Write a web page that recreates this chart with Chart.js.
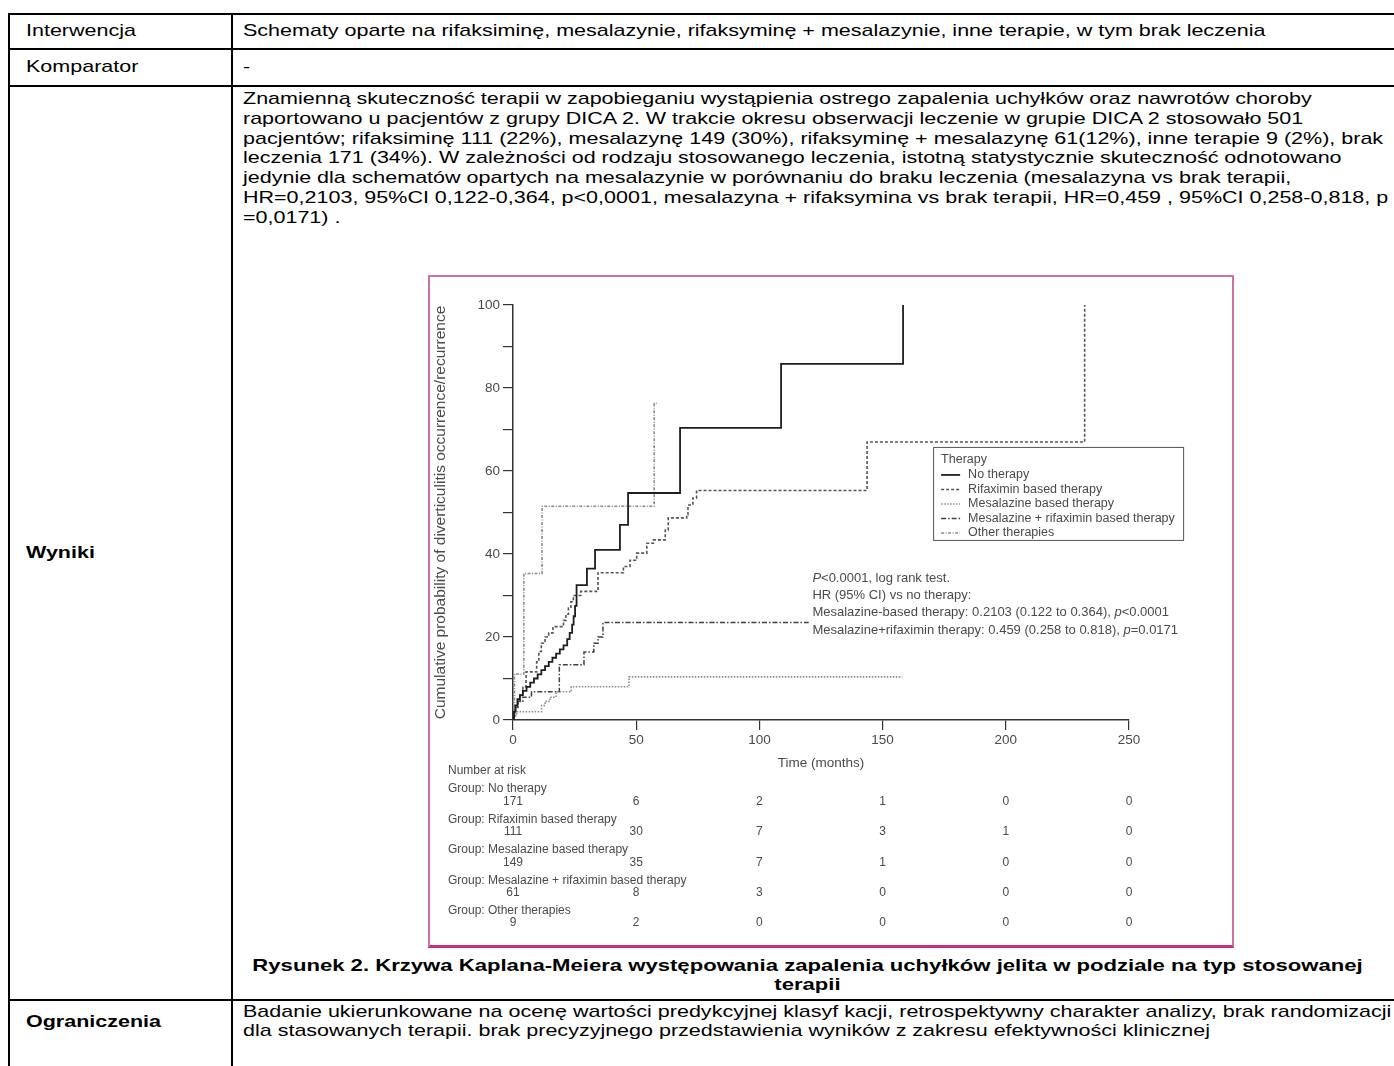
<!DOCTYPE html>
<html lang="pl">
<head>
<meta charset="UTF-8">
<title>Krzywa Kaplana-Meiera</title>
<script src="https://cdn.jsdelivr.net/npm/chart.js@4.4.1/dist/chart.umd.min.js"></script>
<style>
  body { margin: 0; width: 1394px; height: 1066px; overflow: hidden; background: #fff;
         font-family: "Liberation Sans", Arial, sans-serif; color: #000; position: relative; }
  .hl { position: absolute; left: 8px; width: 1400px; height: 2px; background: #000; }
  .vl { position: absolute; top: 13px; width: 2px; height: 1060px; background: #000; }
  /* the source page is stretched sideways, so the text is widened to match */
  .t { position: absolute; font-size: 17px; line-height: 20px; white-space: nowrap;
       transform: scaleX(1.265); transform-origin: 0 0; }
  .b { font-weight: bold; }
  #figbox { position: absolute; left: 428px; top: 275px; width: 802px; height: 668px;
            border: 2px solid #cf6fac; border-bottom: 3px solid #c8317f; background: #fff; }
  #cap { position: absolute; left: 233px; width: 1149px; top: 957px; font-size: 17px; line-height: 18.5px;
         font-weight: bold; text-align: center; white-space: nowrap;
         transform: scaleX(1.30); transform-origin: 50% 0; }
</style>
</head>
<body>
<div class="hl" style="top:13px"></div>
<div class="hl" style="top:48px"></div>
<div class="hl" style="top:85px"></div>
<div class="hl" style="top:999px"></div>
<div class="vl" style="left:8px"></div>
<div class="vl" style="left:231px"></div>

<div class="t" style="left:26px; top:21px">Interwencja</div>
<div class="t" style="left:243px; top:21px">Schematy oparte na rifaksiminę, mesalazynie, rifaksyminę + mesalazynie, inne terapie, w tym brak leczenia</div>
<div class="t" style="left:26px; top:57px">Komparator</div>
<div class="t" style="left:243px; top:57px">-</div>
<div class="t b" style="left:26px; top:543px">Wyniki</div>
<div class="t" style="left:243px; top:89px; line-height:19.8px">Znamienną skuteczność terapii w zapobieganiu wystąpienia ostrego zapalenia uchyłków oraz nawrotów choroby<br>raportowano u pacjentów z grupy DICA 2. W trakcie okresu obserwacji leczenie w grupie DICA 2 stosowało 501<br>pacjentów; rifaksiminę 111 (22%), mesalazynę 149 (30%), rifaksyminę + mesalazynę 61(12%), inne terapie 9 (2%), brak<br>leczenia 171 (34%). W zależności od rodzaju stosowanego leczenia, istotną statystycznie skuteczność odnotowano<br>jedynie dla schematów opartych na mesalazynie w porównaniu do braku leczenia (mesalazyna vs brak terapii,<br>HR=0,2103, 95%CI 0,122-0,364, p&lt;0,0001, mesalazyna + rifaksymina vs brak terapii, HR=0,459 , 95%CI 0,258-0,818, p<br>=0,0171) .</div>

<div id="figbox"><canvas id="km" width="802" height="668"></canvas></div>
<div id="cap">Rysunek 2. Krzywa Kaplana-Meiera występowania zapalenia uchyłków jelita w podziale na typ stosowanej<br>terapii</div>

<div class="t b" style="left:26px; top:1012px">Ograniczenia</div>
<div class="t" style="left:243px; top:1002px; line-height:19px">Badanie ukierunkowane na ocenę wartości predykcyjnej klasyf kacji, retrospektywny charakter analizy, brak randomizacji<br>dla stasowanych terapii. brak precyzyjnego przedstawienia wyników z zakresu efektywności klinicznej</div>

<script>
// Kaplan-Meier curves: time (months) and cumulative probability (%)
const noTherapyT = [0, 0.4, 1, 1.8, 2.8, 4, 5.5, 7, 8.5, 10, 11.5, 13, 14.5, 16, 17.5, 19, 20.5, 22, 23, 24, 24.6, 25.2, 25.8, 30, 33.3, 43.4, 46.7, 67.8, 108.8, 158.3];
const noTherapyP = [0, 2, 3.5, 5, 6, 7, 8, 9, 10, 11, 12, 13, 14, 15, 16, 17, 18, 19.5, 21, 23, 25, 27.5, 32.5, 36.5, 41, 47, 54.7, 70.4, 85.8, 100];

const rifaximinT = [0, 0.5, 1, 2, 3, 4, 5.3, 9.6, 10.5, 11.5, 13, 14.5, 16.2, 20.5, 21.5, 22.5, 23.5, 24.5, 27.5, 34.5, 44.8, 47.5, 50.2, 54.3, 57, 61.8, 63, 70.5, 71, 73, 74.5, 143.7, 232];
const rifaximinP = [0, 1.5, 3, 4.5, 6, 8, 11.6, 14, 16.5, 18.5, 20, 21, 22.5, 24, 25.5, 27, 28.5, 30, 31, 35.5, 37, 38.5, 40.2, 42.6, 43.4, 45.8, 48.7, 49.5, 51.8, 53.5, 55.3, 67, 100];

const mesalazineT = [0, 0.5, 1.5, 11.6, 13, 15, 17.5, 23.6, 47.1, 158];
const mesalazineP = [0, 1, 2, 3.5, 4.5, 5.5, 6.8, 8, 10.4, 10.4];

const mesRifT = [0, 0.5, 1, 2, 4, 7.5, 18.8, 28.8, 32.8, 34.5, 36.5, 120];
const mesRifP = [0, 1.5, 3, 4.5, 5.5, 6.8, 13.3, 16.4, 18.5, 20, 23.5, 23.5];

const otherT = [0, 0.6, 4.4, 11.8, 57.3, 58.3];
const otherP = [0, 11.1, 35.3, 51.5, 76.3, 76.3];

const groupNames = ['No therapy', 'Rifaximin based therapy', 'Mesalazine based therapy',
                    'Mesalazine + rifaximin based therapy', 'Other therapies'];

// number at risk
const riskTimes = [0, 50, 100, 150, 200, 250];
const riskNoTherapy = [171, 6, 2, 1, 0, 0];
const riskRifaximin = [111, 30, 7, 3, 1, 0];
const riskMesalazine = [149, 35, 7, 1, 0, 0];
const riskMesRif = [61, 8, 3, 0, 0, 0];
const riskOther = [9, 2, 0, 0, 0, 0];

const statLines = [
  [['P', true], ['<0.0001, log rank test.', false]],
  [['HR (95% CI) vs no therapy:', false]],
  [['Mesalazine-based therapy: 0.2103 (0.122 to 0.364), ', false], ['p', true], ['<0.0001', false]],
  [['Mesalazine+rifaximin therapy: 0.459 (0.258 to 0.818), ', false], ['p', true], ['=0.0171', false]]
];

const FONT = '"Liberation Sans", Arial, sans-serif';
const TXT = '#4a4a4a';

function pts(t, p) { return t.map((v, i) => ({x: v, y: p[i]})); }

const styles = [
  {color: '#1e1e1e', dash: [], width: 1.8},
  {color: '#555555', dash: [3, 2], width: 1.6},
  {color: '#8a8a8a', dash: [1.5, 1.5], width: 1.6},
  {color: '#404040', dash: [5, 2, 1.5, 2], width: 1.5},
  {color: '#8c8c8c', dash: [3, 1.5, 1, 1.5], width: 1.6}
];
const curves = [pts(noTherapyT, noTherapyP), pts(rifaximinT, rifaximinP), pts(mesalazineT, mesalazineP),
                pts(mesRifT, mesRifP), pts(otherT, otherP)];
const risks = [riskNoTherapy, riskRifaximin, riskMesalazine, riskMesRif, riskOther];

const datasets = curves.map((d, i) => ({
  label: groupNames[i],
  data: d,
  borderColor: styles[i].color,
  borderDash: styles[i].dash,
  borderWidth: styles[i].width,
  stepped: 'before',
  pointRadius: 0,
  fill: false,
  order: i === 0 ? 0 : 1
}));

const extras = {
  id: 'extras',
  afterDraw(chart) {
    const {ctx, scales: {x, y}} = chart;
    ctx.save();
    ctx.fillStyle = TXT;
    ctx.textBaseline = 'middle';

    // legend box
    const lx = x.getPixelForValue(170.5), ly = y.getPixelForValue(65.8);
    ctx.strokeStyle = '#555';
    ctx.lineWidth = 1;
    ctx.setLineDash([]);
    ctx.strokeRect(lx + 0.5, ly + 0.5, 250, 93);
    ctx.font = '12.5px ' + FONT;
    ctx.textAlign = 'left';
    ctx.fillText('Therapy', lx + 8, ly + 13);
    datasets.forEach((ds, i) => {
      const yy = ly + 28 + i * 14.5;
      ctx.beginPath();
      ctx.strokeStyle = ds.borderColor;
      ctx.lineWidth = ds.borderWidth;
      ctx.setLineDash(ds.borderDash);
      ctx.moveTo(lx + 8, yy);
      ctx.lineTo(lx + 27, yy);
      ctx.stroke();
      ctx.fillText(ds.label, lx + 35, yy);
    });
    ctx.setLineDash([]);

    // statistics text
    let sy = y.getPixelForValue(34.2);
    statLines.forEach(line => {
      let sx = x.getPixelForValue(121.5);
      line.forEach(([s, it]) => {
        ctx.font = (it ? 'italic ' : '') + '13px ' + FONT;
        ctx.fillText(s, sx, sy);
        sx += ctx.measureText(s).width;
      });
      sy += 17.3;
    });

    // number at risk table
    const top = chart.chartArea.bottom;
    ctx.font = '12px ' + FONT;
    ctx.textAlign = 'left';
    ctx.fillText('Number at risk', 18, top + 51);
    risks.forEach((row, i) => {
      const gy = top + 69 + i * 30.4;
      ctx.textAlign = 'left';
      ctx.fillText('Group: ' + groupNames[i], 18, gy);
      ctx.textAlign = 'center';
      row.forEach((n, j) => ctx.fillText(String(n), x.getPixelForValue(riskTimes[j]), gy + 12.5));
    });
    ctx.restore();
  }
};

new Chart(document.getElementById('km'), {
  type: 'line',
  data: {datasets},
  options: {
    responsive: false,
    animation: false,
    layout: {padding: {top: 28, right: 103, bottom: 170, left: 0}},
    plugins: {legend: {display: false}, tooltip: {enabled: false}},
    scales: {
      x: {
        type: 'linear', min: 0, max: 250,
        afterFit: s => { s.height = 55; },
        ticks: {stepSize: 50, color: TXT, font: {family: FONT, size: 13.5}, padding: 2, maxRotation: 0},
        grid: {drawOnChartArea: false, drawTicks: true, tickLength: 10, color: '#333', lineWidth: 1.2},
        border: {color: '#333', width: 1.5},
        title: {display: true, text: 'Time (months)', color: TXT, font: {family: FONT, size: 13.5}, padding: {top: 2, bottom: 4}}
      },
      y: {
        min: 0, max: 100,
        afterFit: s => { s.width = 83; },
        ticks: {stepSize: 10, color: TXT, font: {family: FONT, size: 13.5}, padding: 3,
                callback: v => (v % 20 === 0 ? v : '')},
        grid: {drawOnChartArea: false, drawTicks: true, tickLength: 10, color: '#333', lineWidth: 1.2},
        border: {color: '#333', width: 1.5},
        title: {display: true, text: 'Cumulative probability of diverticulitis occurrence/recurrence',
                color: TXT, font: {family: FONT, size: 15.5}, padding: {top: 1, bottom: 0}}
      }
    }
  },
  plugins: [extras]
});
</script>
</body>
</html>
